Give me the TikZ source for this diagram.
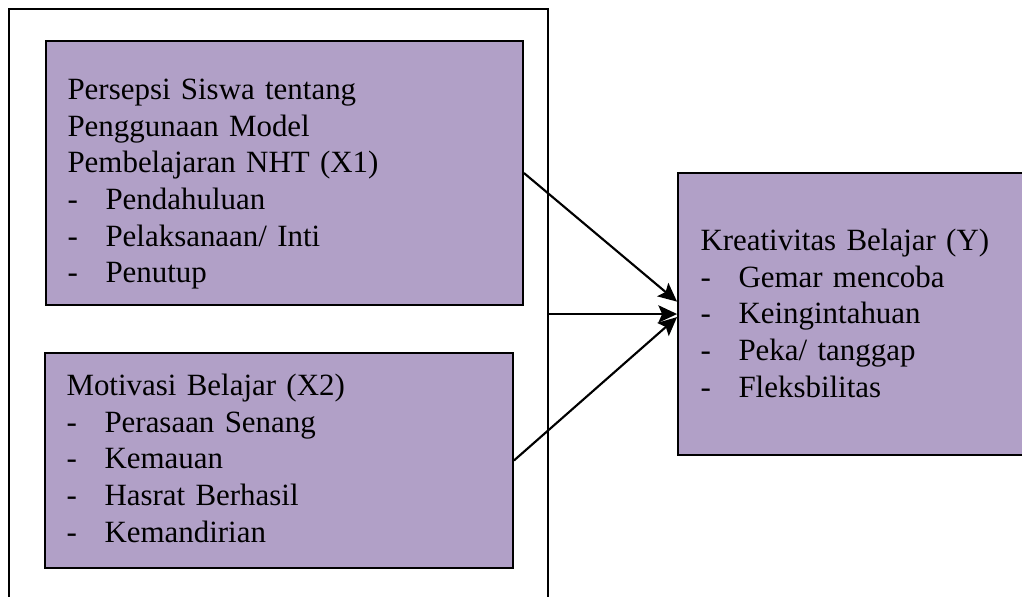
\documentclass[tikz,border=0pt]{standalone}
\usepackage{fontspec}
\setmainfont{Liberation Serif}
\usetikzlibrary{arrows.meta}
\definecolor{lilac}{RGB}{177,160,199}
\newcommand{\dashitem}[1]{\makebox[14.25pt][l]{-}#1}
\begin{document}
\begin{tikzpicture}[x=0.375pt, y=-0.375pt,
	box/.style={shape=rectangle, draw=black, line width=0.7pt, fill=lilac, inner sep=0pt},
	frame/.style={shape=rectangle, draw=black, line width=0.7pt, inner sep=0pt},
	txt/.style={anchor=north west, inner sep=0pt, text width=180pt, align=left, font=\fontsize{11.6}{13.75}\selectfont},
	arr/.style={-{Stealth[length=7pt, width=6.5pt, inset=1.4pt]}, line width=0.8pt}]
	\useasboundingbox (0,0) rectangle (1022,596);
	\begin{scope}
	\clip (0,0) rectangle (1022,596);
	\node at (278.5,314) [frame, minimum width=202.125pt, minimum height=228.75pt] (frame) {};
	\node at (284.5,173) [box, minimum width=178.875pt, minimum height=99pt] (x1) {};
	\node at (279,460.5) [box, minimum width=175.5pt, minimum height=80.625pt] (x2) {};
	\node at (854,314) [box, minimum width=132pt, minimum height=105.75pt] (y) {};
	\end{scope}
	\node at (67,73.3) [txt] (x1txt) {\strut Persepsi Siswa tentang\\Penggunaan Model\\Pembelajaran NHT (X1)\\\dashitem{Pendahuluan}\\\dashitem{Pelaksanaan/ Inti}\\\dashitem{Penutup}};
	\node at (66,369.3) [txt] (x2txt) {\strut Motivasi Belajar (X2)\\\dashitem{Perasaan Senang}\\\dashitem{Kemauan}\\\dashitem{Hasrat Berhasil}\\\dashitem{Kemandirian}};
	\node at (700,224.3) [txt, text width=120pt] (ytxt) {\strut Kreativitas Belajar (Y)\\\dashitem{Gemar mencoba}\\\dashitem{Keingintahuan}\\\dashitem{Peka/ tanggap}\\\dashitem{Fleksbilitas}};
	\draw [arr] (x1.east) -- (y.176);
	\draw [arr] (frame.east) -- (y.west);
	\draw [arr] (x2.east) -- (y.181);
\end{tikzpicture}
\end{document}
